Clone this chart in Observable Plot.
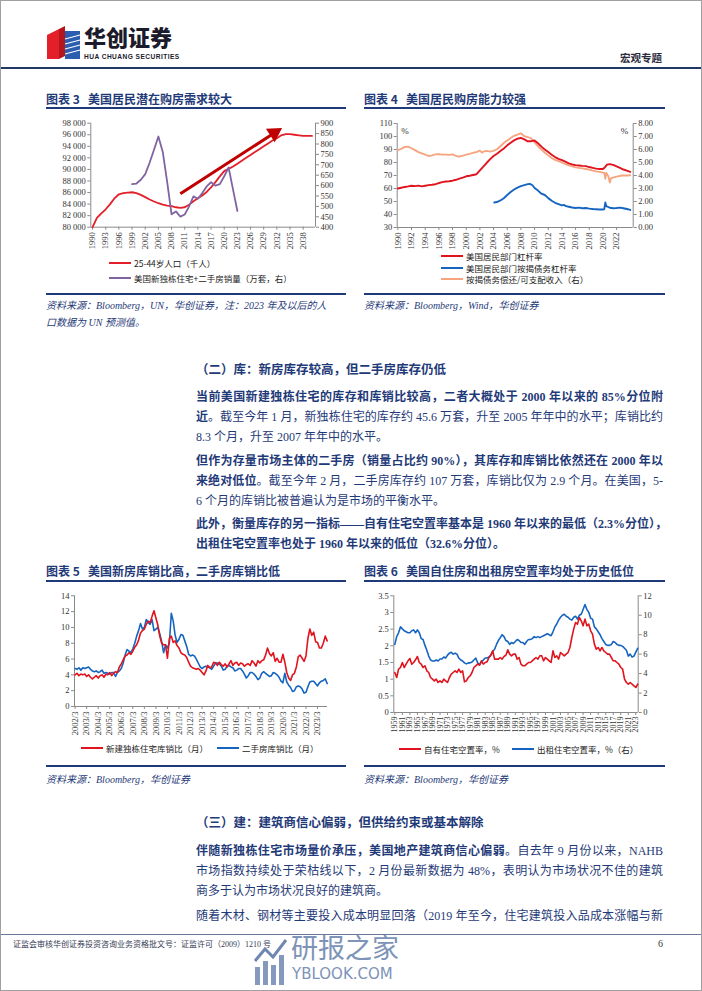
<!DOCTYPE html>
<html><head><meta charset="utf-8">
<script src="https://cdn.jsdelivr.net/npm/d3@7"></script>
<script src="https://cdn.jsdelivr.net/npm/@observablehq/plot@0.6"></script>
<style>
html,body{margin:0;padding:0;background:#fff;}
#page{position:relative;width:702px;height:991px;overflow:hidden;box-sizing:border-box;border:1px solid #a0a0a0;font-family:"Liberation Serif","Noto Sans CJK SC",serif;color:#1F3A78;background:#fff;}
.abs{position:absolute;}
.title{font-family:"Noto Sans CJK SC",sans-serif;font-weight:700;font-size:12px;line-height:14px;color:#1F3A78;white-space:nowrap;}
.rule{position:absolute;height:2px;background:#1F3A78;}
.src{font-style:italic;font-size:10px;line-height:12px;color:#1F3A78;white-space:nowrap;font-family:"Liberation Serif","Noto Sans CJK SC",serif;}
.leg{font-family:"Noto Sans CJK SC",sans-serif;font-size:8.5px;line-height:10px;color:#222;white-space:nowrap;display:flex;align-items:center;}
.leg i{display:inline-block;width:22px;height:2px;margin-right:3px;}
.ln{position:absolute;left:195px;width:467px;font-size:12px;line-height:14px;text-align:justify;text-align-last:justify;white-space:nowrap;color:#1F3A78;}
.ln.last{text-align-last:left;}
.ln b{font-weight:700;}
.h2{position:absolute;left:195px;font-size:12.5px;line-height:14px;font-weight:700;color:#1F3A78;white-space:nowrap;}
svg{overflow:visible;}
</style></head>
<body>
<div id="page">
  <!-- header -->
  <svg class="abs" style="left:46px;top:25px" width="34" height="34" viewBox="0 0 34 34">
    <polygon points="0,9 12,3 12,33 0,33" fill="#E3202A"/>
    <polygon points="12,3 18,0 18,30 12,33" fill="#B5161E"/>
    <polygon points="18,5 33,5 33,33 18,33" fill="#2A5DB0"/>
    <g stroke="#fff" stroke-width="1.2"><line x1="18" y1="13" x2="33" y2="9"/><line x1="18" y1="18" x2="33" y2="14"/><line x1="18" y1="23" x2="33" y2="19"/><line x1="18" y1="28" x2="33" y2="24"/></g>
  </svg>
  <div class="abs" style="left:83px;top:23px;font-family:'Noto Sans CJK SC',sans-serif;font-weight:900;font-size:22px;line-height:24px;height:24px;color:#1b1b2b;">华创证券</div>
  <div class="abs" style="left:83px;top:52px;font-family:'Liberation Sans',sans-serif;font-weight:700;font-size:6.6px;line-height:7px;letter-spacing:0.45px;color:#1b1b2b;white-space:nowrap;">HUA CHUANG SECURITIES</div>
  <div class="abs" style="left:619px;top:50px;font-family:'Noto Sans CJK SC',sans-serif;font-weight:700;font-size:10.5px;line-height:13px;color:#2b2b3b;">宏观专题</div>
  <div class="rule" style="left:0;top:66px;width:702px;background:#1F3864;"></div>

  <!-- chart titles row 1 -->
  <div class="abs title" style="left:45px;top:91px;">图表 3&nbsp;&nbsp;&nbsp;美国居民潜在购房需求较大</div>
  <div class="rule" style="left:45px;top:106px;width:300px;"></div>
  <div class="abs title" style="left:363px;top:91px;">图表 4&nbsp;&nbsp;&nbsp;美国居民购房能力较强</div>
  <div class="rule" style="left:363px;top:106px;width:301px;"></div>

  <div id="c3" class="abs" style="left:45px;top:112px;"></div>
  <div id="c4" class="abs" style="left:362px;top:112px;"></div>

  <div class="abs leg" style="left:108px;top:257px;"><i style="background:#E3202A"></i>25-44岁人口（千人）</div>
  <div class="abs leg" style="left:108px;top:272px;"><i style="background:#8064A2"></i>美国新独栋住宅+二手房销量（万套，右）</div>
  <div class="abs leg" style="left:440px;top:250px;"><i style="background:#E0141E"></i>美国居民部门杠杆率</div>
  <div class="abs leg" style="left:440px;top:262px;"><i style="background:#1565C0"></i>美国居民部门按揭债务杠杆率</div>
  <div class="abs leg" style="left:440px;top:273px;"><i style="background:#F5A47E"></i>按揭债务偿还/可支配收入（右）</div>

  <div class="rule" style="left:45px;top:292px;width:300px;"></div>
  <div class="rule" style="left:363px;top:292px;width:301px;"></div>
  <div class="abs src" style="left:45px;top:299px;">资料来源：Bloomberg，UN，华创证券，注：2023 年及以后的人</div>
  <div class="abs src" style="left:45px;top:316px;">口数据为 UN 预测值。</div>
  <div class="abs src" style="left:363px;top:299px;">资料来源：Bloomberg，Wind，华创证券</div>

  <!-- text section 2 -->
  <div class="h2" style="top:362px;">（二）库：新房库存较高，但二手房库存仍低</div>
  <div class="ln" style="top:389px;"><b>当前美国新建独栋住宅的库存和库销比较高，二者大概处于 2000 年以来的 85%分位附</b></div>
  <div class="ln" style="top:409px;"><b>近</b>。截至今年 1 月，新独栋住宅的库存约 45.6 万套，升至 2005 年年中的水平；库销比约</div>
  <div class="ln last" style="top:429px;">8.3 个月，升至 2007 年年中的水平。</div>
  <div class="ln" style="top:453px;"><b>但作为存量市场主体的二手房（销量占比约 90%），其库存和库销比依然还在 2000 年以</b></div>
  <div class="ln" style="top:473px;"><b>来绝对低位</b>。截至今年 2 月，二手房库存约 107 万套，库销比仅为 2.9 个月。在美国，5-</div>
  <div class="ln last" style="top:493px;">6 个月的库销比被普遍认为是市场的平衡水平。</div>
  <div class="ln" style="top:516px;"><b>此外，衡量库存的另一指标——自有住宅空置率基本是 1960 年以来的最低（2.3%分位），</b></div>
  <div class="ln last" style="top:536px;"><b>出租住宅空置率也处于 1960 年以来的低位（32.6%分位）。</b></div>

  <!-- chart titles row 2 -->
  <div class="abs title" style="left:45px;top:563px;">图表 5&nbsp;&nbsp;&nbsp;美国新房库销比高，二手房库销比低</div>
  <div class="rule" style="left:45px;top:579px;width:300px;"></div>
  <div class="abs title" style="left:363px;top:563px;">图表 6&nbsp;&nbsp;&nbsp;美国自住房和出租房空置率均处于历史低位</div>
  <div class="rule" style="left:363px;top:579px;width:301px;"></div>

  <div id="c5" class="abs" style="left:45px;top:585px;"></div>
  <div id="c6" class="abs" style="left:362px;top:585px;"></div>

  <div class="abs leg" style="left:80px;top:742px;"><i style="background:#E0141E"></i>新建独栋住宅库销比（月）</div>
  <div class="abs leg" style="left:216px;top:742px;"><i style="background:#1565C0"></i>二手房库销比（月）</div>
  <div class="abs leg" style="left:398px;top:743px;"><i style="background:#E0141E"></i>自有住宅空置率，%</div>
  <div class="abs leg" style="left:511px;top:743px;"><i style="background:#1565C0"></i>出租住宅空置率，%（右）</div>

  <div class="rule" style="left:45px;top:764px;width:300px;"></div>
  <div class="rule" style="left:363px;top:764px;width:301px;"></div>
  <div class="abs src" style="left:45px;top:773px;">资料来源：Bloomberg，华创证券</div>
  <div class="abs src" style="left:363px;top:773px;">资料来源：Bloomberg，华创证券</div>

  <!-- text section 3 -->
  <div class="h2" style="top:815px;">（三）建：建筑商信心偏弱，但供给约束或基本解除</div>
  <div class="ln" style="top:843px;"><b>伴随新独栋住宅市场量价承压，美国地产建筑商信心偏弱</b>。自去年 9 月份以来，NAHB</div>
  <div class="ln" style="top:863px;">市场指数持续处于荣枯线以下，2 月份最新数据为 48%，表明认为市场状况不佳的建筑</div>
  <div class="ln last" style="top:883px;">商多于认为市场状况良好的建筑商。</div>
  <div class="ln" style="top:908px;">随着木材、钢材等主要投入成本明显回落（2019 年至今，住宅建筑投入品成本涨幅与新</div>

  <!-- footer -->
  <div class="abs" style="left:0;top:933px;width:702px;height:1px;background:#6b7a99;"></div>
  <div class="abs" style="left:12px;top:939px;font-size:8px;line-height:10px;color:#333a55;white-space:nowrap;font-family:'Liberation Serif','Noto Sans CJK SC',serif;">证监会审核华创证券投资咨询业务资格批文号：证监许可（2009）1210 号</div>
  <div class="abs" style="left:657px;top:937px;font-size:10px;line-height:12px;color:#333;">6</div>

  <!-- watermark -->
  <svg class="abs" style="left:252px;top:934px" width="36" height="52" viewBox="0 0 36 52">
    <g fill="#6f88b0" opacity="0.85"><rect x="2" y="32" width="5" height="18"/><rect x="10" y="26" width="5" height="24"/><rect x="18" y="30" width="5" height="20"/><rect x="26" y="20" width="5" height="30"/></g>
    <polyline points="2,26 12,14 20,22 33,5" fill="none" stroke="#6f88b0" stroke-width="3"/>
  </svg>
  <div class="abs" style="left:290px;top:929px;font-family:'Noto Sans CJK SC',sans-serif;font-size:27px;line-height:34px;color:#6f88b0;opacity:0.9;">研报之家</div>
  <div class="abs" style="left:291px;top:964px;font-family:'DejaVu Sans',sans-serif;font-size:15px;line-height:18px;color:#6f88b0;opacity:0.9;">YBLOOK.COM</div>
</div>

<script>
// ================= DATA =================
// Chart 3
const c3Years = [1990,1991,1992,1993,1994,1995,1996,1997,1998,1999,2000,2001,2002,2003,2004,2005,2006,2007,2008,2009,2010,2011,2012,2013,2014,2015,2016,2017,2018,2019,2020,2021,2022,2023,2024,2025,2026,2027,2028,2029,2030,2031,2032,2033,2034,2035,2036,2037,2038,2039,2040];
const c3Pop = [80000,81600,82400,83100,84000,85000,85700,85900,86000,86050,85900,85600,85200,84800,84450,84150,83900,83750,83650,83450,83350,83450,83900,84500,85000,85500,86100,86900,87800,88800,89700,90100,90500,91000,91500,92000,92500,93000,93500,94000,94500,95000,95400,95900,96100,96100,96000,95900,95800,95800,95800];
const c3SalesYears = [1999,2000,2001,2002,2003,2004,2005,2006,2007,2008,2009,2010,2011,2012,2013,2014,2015,2016,2017,2018,2019,2020,2021,2022,2023];
const c3Sales = [607,610,628,655,710,772,836,762,618,462,476,451,461,500,548,537,564,596,616,600,607,645,687,582,478];
const c3Arrow = [{x1:2010, y1:85800, x2:2031.4, y2:96300}];
const c3LeftTicks = [80000,82000,84000,86000,88000,90000,92000,94000,96000,98000];
const c3RightTicks = [400,450,500,550,600,650,700,750,800,850,900];
const c3XTicks = [1990,1993,1996,1999,2002,2005,2008,2011,2014,2017,2020,2023,2026,2029,2032,2035,2038];

// Chart 4
const c4Leverage = [[1990,60.0],[1990.5,60.6],[1991,61.2],[1991.5,61.6],[1992,62.1],[1992.5,61.8],[1993,62.2],[1993.5,61.6],[1994,62.1],[1994.5,62.6],[1995,62.9],[1995.5,63.3],[1996,64.2],[1996.5,64.9],[1997,65.4],[1997.5,65.6],[1998,66.0],[1998.5,66.7],[1999,67.6],[1999.5,68.4],[2000,69.4],[2000.5,69.8],[2001,70.4],[2001.5,71.0],[2002,74.0],[2002.5,76.8],[2003,79.8],[2003.5,82.6],[2004,85.0],[2004.5,86.8],[2005,88.8],[2005.5,90.8],[2006,93.2],[2006.5,95.2],[2007,97.0],[2007.5,98.3],[2008,99.0],[2008.5,97.8],[2009,96.3],[2009.5,96.4],[2010,96.9],[2010.5,94.8],[2011,92.2],[2011.5,90.0],[2012,88.0],[2012.5,86.0],[2013,84.2],[2013.5,82.8],[2014,81.8],[2014.5,80.6],[2015,79.3],[2015.5,78.5],[2016,78.0],[2016.5,77.7],[2017,77.4],[2017.5,77.2],[2018,76.5],[2018.5,75.9],[2019,75.3],[2019.5,75.0],[2020,75.0],[2020.3,76.4],[2020.6,78.4],[2021,78.8],[2021.5,78.2],[2022,77.0],[2022.5,75.8],[2023,74.6],[2023.5,73.7],[2024,72.8]];
const c4Mortgage = [[2004.1,49.2],[2004.5,49.6],[2005,50.8],[2005.5,52.5],[2006,55.0],[2006.5,57.3],[2007,59.2],[2007.5,60.7],[2008,61.8],[2008.5,62.6],[2009,63.4],[2009.3,63.6],[2009.7,62.5],[2010,60.4],[2010.5,58.4],[2011,56.0],[2011.5,55.0],[2012,52.6],[2012.5,50.6],[2013,49.0],[2013.5,48.0],[2014,47.0],[2014.3,47.4],[2014.6,46.4],[2015,46.0],[2015.5,45.4],[2016,45.0],[2016.5,45.3],[2017,44.8],[2017.5,45.0],[2018,44.5],[2018.5,44.2],[2019,44.0],[2019.5,43.8],[2020,43.8],[2020.2,44.2],[2020.35,49.2],[2020.5,46.4],[2021,45.2],[2021.5,44.8],[2022,45.0],[2022.5,45.3],[2023,44.8],[2023.5,44.2],[2024,43.5]];
const c4Service = [[1990,5.95],[1990.5,6.05],[1991,6.2],[1991.5,6.22],[1992,6.1],[1992.5,5.95],[1993,5.8],[1993.5,5.7],[1994,5.6],[1994.5,5.5],[1995,5.55],[1995.5,5.62],[1996,5.65],[1996.5,5.6],[1997,5.6],[1997.5,5.58],[1998,5.62],[1998.5,5.5],[1999,5.45],[1999.5,5.52],[2000,5.6],[2000.5,5.66],[2001,5.75],[2001.5,5.8],[2002,5.92],[2002.3,5.76],[2002.6,5.86],[2003,5.9],[2003.5,5.84],[2004,5.9],[2004.5,6.02],[2005,6.25],[2005.5,6.5],[2006,6.7],[2006.5,6.88],[2007,7.05],[2007.5,7.15],[2008,7.25],[2008.5,7.02],[2009,6.96],[2009.5,6.85],[2010,6.55],[2010.5,6.25],[2011,6.0],[2011.5,5.75],[2012,5.55],[2012.5,5.35],[2013,5.2],[2013.5,5.1],[2014,5.0],[2014.5,4.88],[2015,4.78],[2015.5,4.7],[2016,4.63],[2016.5,4.58],[2017,4.55],[2017.5,4.5],[2018,4.45],[2018.5,4.38],[2019,4.32],[2019.5,4.28],[2020,4.22],[2020.2,4.2],[2020.35,3.75],[2020.5,4.2],[2020.8,3.95],[2021,3.45],[2021.2,3.8],[2021.6,3.85],[2022,3.92],[2022.5,3.98],[2023,4.0],[2023.5,4.0],[2024,4.02]];
const c4LeftTicks = [30,40,50,60,70,80,90,100,110];
const c4RightTicks = [0,1,2,3,4,5,6,7,8];
const c4XTicks = [1990,1992,1994,1996,1998,2000,2002,2004,2006,2008,2010,2012,2014,2016,2018,2020,2022];

// Chart 5 (bi-monthly: Mar, May, Jul, Sep, Nov, Jan, from Mar 2002)
const c5Start = 2002 + 2/12;
const c5NewHome = [
 4.0,4.2,3.9,4.1,4.0,4.1, 3.8,4.0,3.7,3.5,3.7,3.9, 3.6,3.9,4.0,3.7,4.1,4.0, 4.3,3.9,4.2,4.4,4.3,5.0,
 5.4,5.9,6.4,6.5,6.8,6.6, 7.0,7.5,7.8,8.4,9.3,9.6, 9.8,10.4,10.8,10.6,11.4,12.1, 11.2,10.3,8.9,8.0,7.8,7.8,
 6.1,8.6,8.9,8.1,8.3,7.7, 7.4,6.8,6.6,6.5,6.2,5.6, 5.1,4.9,4.8,4.7,4.8,4.6, 4.3,4.0,4.5,5.2,4.9,5.0,
 5.6,5.5,5.2,5.6,5.3,5.1, 5.4,5.0,5.4,5.8,5.2,5.5, 5.6,5.2,5.5,5.4,5.1,5.3, 5.4,5.2,5.8,5.5,5.1,5.8,
 5.5,5.8,5.9,6.5,7.4,6.7, 6.4,6.8,5.7,6.1,5.6,5.6, 6.6,5.6,4.3,3.6,3.3,4.0, 4.2,5.0,6.3,6.5,6.1,5.7,
 6.4,8.6,9.8,9.0,9.4,8.2, 8.1,7.4,7.4,8.0,8.9,8.3];
const c5Existing = [
 4.8,4.7,4.9,4.6,4.9,4.8, 4.9,5.0,4.7,4.5,4.4,4.5, 4.3,4.4,4.6,4.2,4.3,4.2, 4.1,4.3,4.3,3.8,4.3,4.5,
 4.8,5.5,6.5,7.2,7.0,6.8, 7.3,8.0,8.9,9.6,10.5,9.8, 10.0,11.0,10.6,10.4,11.0,9.6, 9.8,10.0,9.2,8.2,6.8,7.8,
 7.4,8.0,11.8,10.8,9.0,8.1, 8.5,9.1,9.0,8.3,7.6,6.6, 6.4,6.5,6.4,6.0,5.5,5.0, 4.8,5.0,5.1,5.0,4.9,4.7,
 5.1,5.5,5.5,5.4,5.1,4.6, 4.7,5.1,5.2,5.0,4.9,4.5, 4.6,4.8,4.8,4.5,4.1,3.6, 3.9,4.3,4.3,4.1,3.8,3.4,
 3.6,4.2,4.4,4.2,4.0,3.8, 3.9,4.3,4.2,4.0,3.7,3.2, 3.0,4.2,3.1,2.7,2.4,1.9, 2.0,2.5,2.6,2.5,2.2,1.7,
 1.8,2.5,3.1,3.2,3.2,2.9, 2.6,3.0,3.2,3.3,3.5,2.9];
const c5YTicks = [0,2,4,6,8,10,12,14];
const c5XLabels = ["2002/3","2003/3","2004/3","2005/3","2006/3","2007/3","2008/3","2009/3","2010/3","2011/3","2012/3","2013/3","2014/3","2015/3","2016/3","2017/3","2018/3","2019/3","2020/3","2021/3","2022/3","2023/3"];

// Chart 6 (half-yearly from 1959)
const c6Start = 1959;
const c6Homeowner = [1.2,1.05, 1.3,1.35, 1.5,1.35, 1.45,1.55, 1.62,1.45, 1.5,1.58, 1.68,1.5, 1.45,1.35, 1.4,1.25, 1.2,1.05, 1.0,0.95, 1.0,0.9, 0.95,0.9, 1.0,0.95, 0.9,1.05,
 1.15,1.2, 1.25,1.2, 1.3,1.2, 1.25,0.92, 0.95,1.05, 1.1,1.2, 1.35,1.4, 1.45,1.42, 1.55,1.45, 1.5,1.52, 1.65,1.72, 1.85,1.6, 1.6,1.6, 1.65,1.6, 1.68,1.72, 1.88,1.75,
 1.7,1.75, 1.75,1.6, 1.65,1.45, 1.4,1.4, 1.45,1.5, 1.5,1.55, 1.6,1.65, 1.6,1.7, 1.7,1.55, 1.65,1.6, 1.55,1.5, 1.85,1.65, 1.7,1.6, 1.8,1.75, 1.7,1.75, 1.8,1.95,
 2.25,2.5, 2.7,2.65, 2.85,2.75, 2.6,2.8, 2.6,2.65, 2.45,2.35, 2.05,1.9, 1.95,1.85, 1.95,1.85, 1.8,1.75, 1.75,1.65, 1.55,1.55, 1.5,1.45, 1.35,1.3, 1.0,0.9, 0.85,0.9, 0.85,0.8, 0.75,0.85];
const c6Rental = [7.0,7.8, 8.2,8.8, 8.6,8.4, 8.3,8.2, 8.2,8.4, 8.5,8.2, 8.5,8.2, 7.6,7.5, 6.9,6.4, 5.8,5.4, 5.3,5.3, 5.4,5.3, 5.5,5.5, 5.7,5.6, 5.9,6.1,
 6.2,6.0, 6.1,6.0, 5.6,5.4, 5.3,5.1, 5.0,5.1, 5.1,5.2, 5.4,5.6, 5.1,4.9, 5.2,5.4, 5.6,5.6, 5.7,5.9, 6.3,6.5, 7.0,7.4, 7.7,8.0, 7.8,7.4, 7.3,7.0,
 7.2,7.1, 7.3,7.5, 7.4,7.2, 7.2,7.0, 7.3,7.5, 7.5,7.6, 7.8,7.7, 7.8,7.7, 7.8,7.9, 8.0,8.1, 8.0,7.9, 8.3,8.8, 9.1,9.5, 9.8,10.0, 10.1,9.9, 9.8,9.6,
 9.5,9.8, 9.9,9.6, 10.0,10.1, 10.6,11.1, 10.6,10.3, 9.7,9.6, 8.8,8.6, 8.3,8.0, 7.6,7.3, 7.0,6.9, 6.9,7.0, 7.3,7.2, 7.0,6.9, 6.9,6.8, 6.6,6.4, 5.8,6.0, 5.7,5.8, 6.2,6.6];
const c6LeftTicks = [0,0.5,1,1.5,2,2.5,3,3.5];
const c6RightTicks = [0,2,4,6,8,10,12];
const c6XTicks = [1959,1961,1963,1965,1967,1969,1971,1973,1975,1977,1979,1981,1983,1985,1987,1989,1991,1993,1995,1997,1999,2001,2003,2005,2007,2009,2011,2013,2015,2017,2019,2021,2023];

// ================= DRAW =================
const AX = "#8a8a8a";
const baseStyle = {fontFamily:"Liberation Serif, serif", fontSize:"8.5px", color:"#333", background:"transparent", overflow:"visible"};
const fmtSpace = d => d3.format(",")(d).replace(/,/g, " ");

// Chart 3
{
  const toL = r => 80000 + (r - 400) * 36;
  const fromL = v => (v - 80000) / 36 + 400;
  const x0 = 1989.6, x1 = 2040.8;
  const W = 300, H = 135, mL = 44.3, mR = 31, mT = 9.7, mB = 21.3;
  const pop = c3Years.map((y, i) => ({x: y, v: c3Pop[i]}));
  const sales = c3SalesYears.map((y, i) => ({x: y, v: toL(c3Sales[i])}));
  const pxPerX = (W - mL - mR) / (x1 - x0), pxPerY = (H - mT - mB) / 18000;
  const a = c3Arrow[0];
  const ang = Math.atan2(-(a.y2 - a.y1) * pxPerY, (a.x2 - a.x1) * pxPerX) * 180 / Math.PI;
  const p = Plot.plot({
    width: W, height: H, marginLeft: mL, marginRight: mR, marginTop: mT, marginBottom: mB,
    x: {domain: [x0, x1]}, y: {domain: [80000, 98000]},
    style: baseStyle,
    marks: [
      Plot.ruleX([x0], {stroke: AX}), Plot.ruleX([x1], {stroke: AX}), Plot.ruleY([80000], {stroke: AX}),
      Plot.axisY(c3LeftTicks, {anchor: "left", tickSize: 3, tickPadding: 2, stroke: AX, label: null, tickFormat: fmtSpace}),
      Plot.axisY(c3RightTicks.map(toL), {anchor: "right", tickSize: 3, tickPadding: 2, stroke: AX, label: null, tickFormat: v => String(Math.round(fromL(v)))}),
      Plot.axisX(c3XTicks, {anchor: "bottom", tickRotate: -90, tickSize: 3, tickPadding: 2, stroke: AX, label: null, tickFormat: d => String(d)}),
      Plot.line(pop, {x: "x", y: "v", stroke: "#E3202A", strokeWidth: 1.8}),
      Plot.line(sales, {x: "x", y: "v", stroke: "#8064A2", strokeWidth: 1.8}),
      Plot.link(c3Arrow, {x1: "x1", y1: "y1", x2: "x2", y2: "y2", stroke: "#C00000", strokeWidth: 3}),
      Plot.dot(c3Arrow, {x: "x2", y: "y2", symbol: "triangle", r: 6, fill: "#C00000", stroke: "none", rotate: 90 + ang})
    ]
  });
  document.getElementById("c3").appendChild(p);
}

// Chart 4
{
  const toL = r => 30 + r * 10;
  const fromL = v => (v - 30) / 10;
  const x0 = 1989.9, x1 = 2024.43;
  const p = Plot.plot({
    width: 300, height: 135, marginLeft: 33.7, marginRight: 30.3, marginTop: 10, marginBottom: 21,
    x: {domain: [x0, x1]}, y: {domain: [30, 110]},
    style: baseStyle,
    marks: [
      Plot.ruleX([x0], {stroke: AX}), Plot.ruleX([x1], {stroke: AX}), Plot.ruleY([30], {stroke: AX}),
      Plot.axisY(c4LeftTicks, {anchor: "left", tickSize: 3, tickPadding: 2, stroke: AX, label: null}),
      Plot.axisY(c4RightTicks.map(toL), {anchor: "right", tickSize: 3, tickPadding: 2, stroke: AX, label: null, tickFormat: v => fromL(v).toFixed(2)}),
      Plot.axisX(c4XTicks, {anchor: "bottom", tickRotate: -90, tickSize: 3, tickPadding: 2, stroke: AX, label: null, tickFormat: d => String(d)}),
      Plot.text(["%"], {frameAnchor: "top-left", dx: 4, dy: 4, text: d => d, fontSize: 9, fill: "#333"}),
      Plot.text(["%"], {frameAnchor: "top-right", dx: -5, dy: 4, text: d => d, fontSize: 9, fill: "#333"}),
      Plot.line(c4Service, {x: d => d[0], y: d => toL(d[1]), stroke: "#F5A47E", strokeWidth: 1.8}),
      Plot.line(c4Leverage, {x: d => d[0], y: d => d[1], stroke: "#E0141E", strokeWidth: 1.9}),
      Plot.line(c4Mortgage, {x: d => d[0], y: d => d[1], stroke: "#1565C0", strokeWidth: 1.9})
    ]
  });
  document.getElementById("c4").appendChild(p);
}

// Chart 5
{
  const x0 = 2002.115, x1 = 2024.03;
  const nh = c5NewHome.map((v, i) => ({t: c5Start + i * 2 / 12, v}));
  const ex = c5Existing.map((v, i) => ({t: c5Start + i * 2 / 12, v}));
  const xt = c5XLabels.map(s => +s.split("/")[0] + (+s.split("/")[1] - 1) / 12);
  const p = Plot.plot({
    width: 300, height: 148, marginLeft: 28, marginRight: 19, marginTop: 9.3, marginBottom: 28,
    x: {domain: [x0, x1]}, y: {domain: [0, 14]},
    style: baseStyle,
    marks: [
      Plot.ruleX([x0], {stroke: AX}), Plot.ruleY([0], {stroke: AX}),
      Plot.axisY(c5YTicks, {anchor: "left", tickSize: 3, tickPadding: 2, stroke: AX, label: null}),
      Plot.axisX(xt, {anchor: "bottom", tickRotate: -90, tickSize: 3, tickPadding: 2, stroke: AX, label: null, tickFormat: (d, i) => c5XLabels[i]}),
      Plot.line(ex, {x: "t", y: "v", stroke: "#1565C0", strokeWidth: 1.6}),
      Plot.line(nh, {x: "t", y: "v", stroke: "#E0141E", strokeWidth: 1.6})
    ]
  });
  document.getElementById("c5").appendChild(p);
}

// Chart 6
{
  const toL = r => r * 3.5 / 12;
  const fromL = v => v * 12 / 3.5;
  const x0 = 1958.73, x1 = 2023.63;
  const ho = c6Homeowner.map((v, i) => ({t: c6Start + i * 0.5, v}));
  const re = c6Rental.map((v, i) => ({t: c6Start + i * 0.5, v: toL(v)}));
  const p = Plot.plot({
    width: 300, height: 148, marginLeft: 30.3, marginRight: 25.3, marginTop: 9.3, marginBottom: 22,
    x: {domain: [x0, x1]}, y: {domain: [0, 3.5]},
    style: baseStyle,
    marks: [
      Plot.ruleX([x0], {stroke: AX}), Plot.ruleX([x1], {stroke: AX}), Plot.ruleY([0], {stroke: AX}),
      Plot.axisY(c6LeftTicks, {anchor: "left", tickSize: 3, tickPadding: 2, stroke: AX, label: null, tickFormat: d => String(d)}),
      Plot.axisY(c6RightTicks.map(toL), {anchor: "right", tickSize: 3, tickPadding: 2, stroke: AX, label: null, tickFormat: v => String(Math.round(fromL(v)))}),
      Plot.axisX(c6XTicks, {anchor: "bottom", tickRotate: -90, tickSize: 3, tickPadding: 1, stroke: AX, label: null, tickFormat: d => String(d), fontSize: 8}),
      Plot.line(re, {x: "t", y: "v", stroke: "#1565C0", strokeWidth: 1.6}),
      Plot.line(ho, {x: "t", y: "v", stroke: "#E0141E", strokeWidth: 1.6})
    ]
  });
  document.getElementById("c6").appendChild(p);
}
</script>
</body></html>
